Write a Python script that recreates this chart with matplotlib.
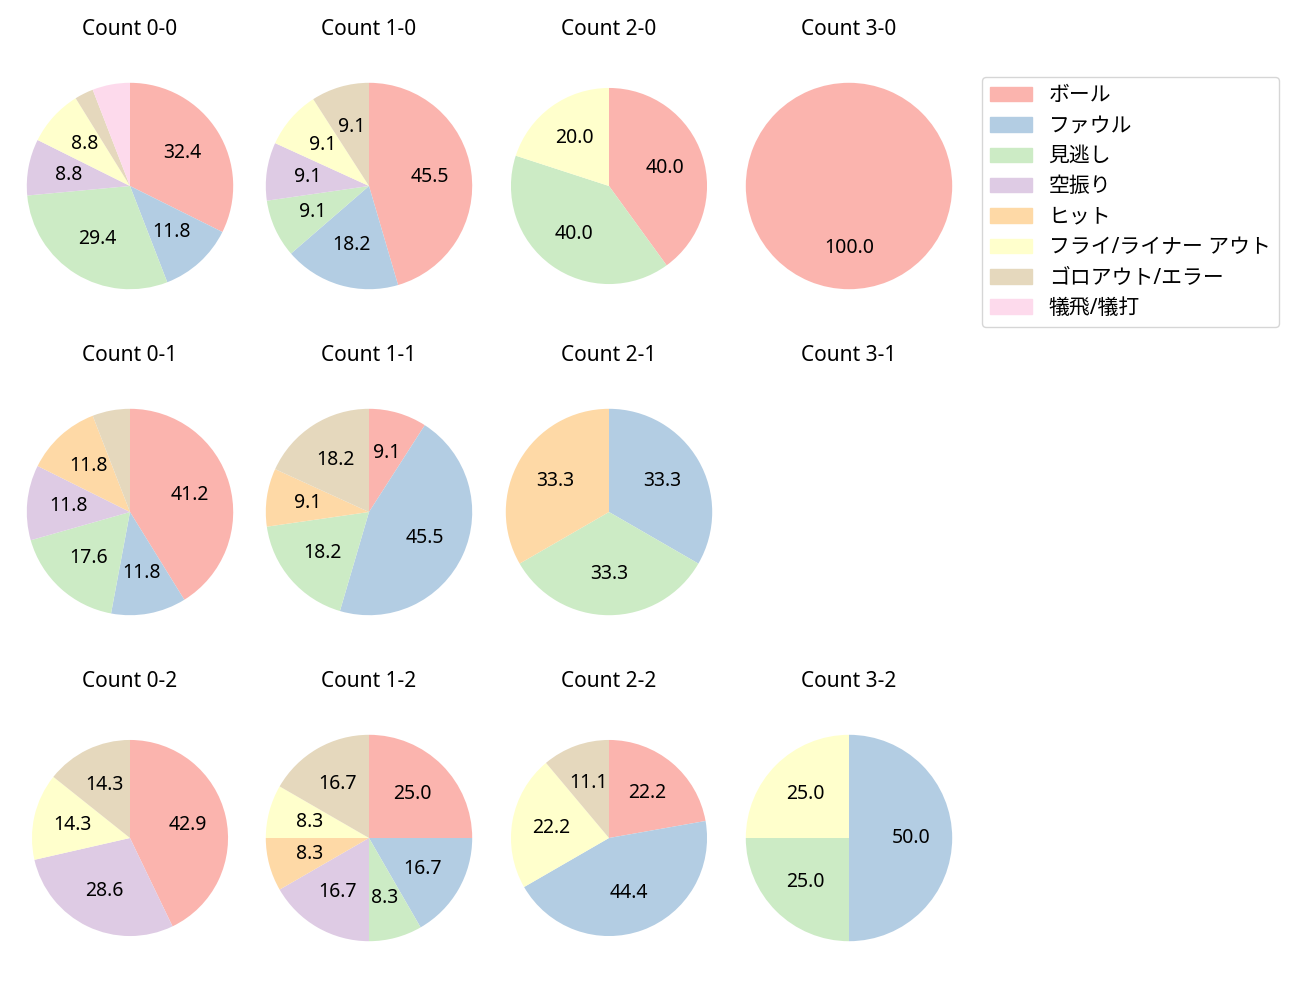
import matplotlib.pyplot as plt

plt.rcParams['font.family'] = ['Noto Sans', 'Noto Sans CJK JP']

categories = ['ボール', 'ファウル', '見逃し', '空振り', 'ヒット',
              'フライ/ライナー アウト', 'ゴロアウト/エラー', '犠飛/犠打']
colors = ['#fbb4ae', '#b3cde3', '#ccebc5', '#decbe4', '#fed9a6',
          '#ffffcc', '#e5d8bd', '#fddaec']

# pitch counts per result, order as in categories
counts = {
    '0-0': [11, 4, 10, 3, 0, 3, 1, 2],
    '1-0': [5, 2, 1, 1, 0, 1, 1, 0],
    '2-0': [2, 0, 2, 0, 0, 1, 0, 0],
    '3-0': [1, 0, 0, 0, 0, 0, 0, 0],
    '0-1': [7, 2, 3, 2, 2, 0, 1, 0],
    '1-1': [1, 5, 2, 0, 1, 0, 2, 0],
    '2-1': [0, 1, 1, 0, 1, 0, 0, 0],
    '3-1': None,
    '0-2': [3, 0, 0, 2, 0, 1, 1, 0],
    '1-2': [3, 2, 1, 2, 1, 1, 2, 0],
    '2-2': [2, 4, 0, 0, 0, 2, 1, 0],
    '3-2': [0, 2, 1, 0, 0, 1, 0, 0],
}
# a few pies come out slightly smaller in the original
small = ['2-0', '0-2', '2-2']

fig = plt.figure(figsize=(13, 10), dpi=100)
W, H = 1300, 1000
col_x = [130, 369, 609, 849]
row_y = [186, 512, 838]
box = 258

def fmt(p):
    return f'{p:.1f}' if p >= 7 else ''

for r, strikes in enumerate(['0', '1', '2']):
    for c, balls in enumerate(['0', '1', '2', '3']):
        key = f'{balls}-{strikes}'
        ax = fig.add_axes([(col_x[c] - box / 2) / W, 1 - (row_y[r] + box / 2) / H,
                           box / W, box / H])
        ax.set_title(f'Count {key}', fontsize=15, pad=15.5)
        vals = counts[key]
        if vals is None:
            ax.axis('off')
            continue
        ax.pie(vals, colors=colors, startangle=90, counterclock=False,
               autopct=fmt, textprops={'fontsize': 14},
               radius=0.95 if key in small else 1.0)

handles = [plt.Rectangle((0, 0), 1, 1, color=col) for col in colors]
fig.legend(handles, categories, loc='upper left',
           bbox_to_anchor=(982 / W, 1 - 77 / H), borderaxespad=0,
           fontsize=15, handlelength=2.0, handleheight=0.7,
           handletextpad=0.8, labelspacing=0.45, borderpad=0.4)

fig.savefig('out.png')
